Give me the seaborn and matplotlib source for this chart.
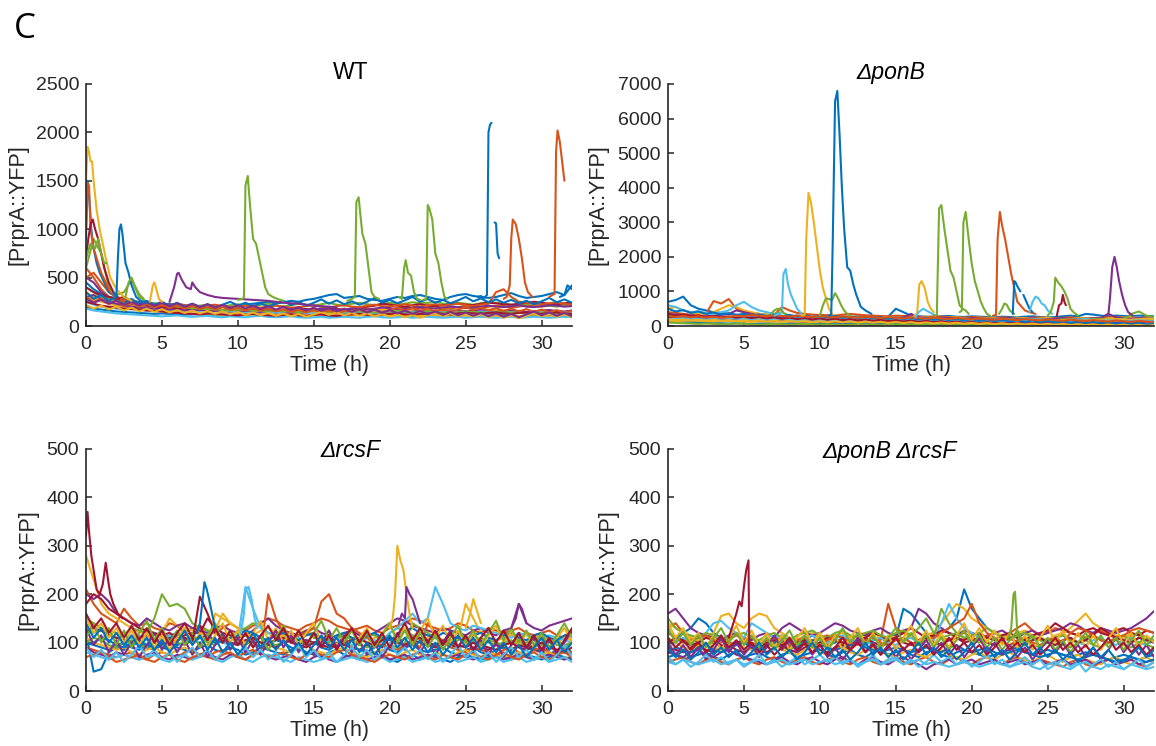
import numpy as np
import pandas as pd
import matplotlib.pyplot as plt
import seaborn as sns

# sampling grid of the background traces (h)
hours = np.arange(0, 32.5, 0.5)

# ---- WT ----
wt_traces = [
    [450, 380, 330, 300, 290, 280, 260, 250, 240, 230, 220, 230, 210, 200, 215, 205, 190, 200, 210, 195, 200, 220, 230, 240, 250, 230, 245, 260, 250, 270, 280, 300, 320, 330, 290, 300, 310, 280, 270, 260, 280, 300, 290, 310, 320, 300, 280, 270, 300, 320, 330, 310, 300, 290, 300, 320, 340, 310, 290, 300, 310, 330, 350, 320, 420],
    [600, 500, 380, 300, 260, 240, 220, 210, 200, 190, 180, 175, 185, 170, 165, 170, 160, 155, 165, 170, 160, 150, 160, 170, 155, 150, 160, 165, 150, 145, 155, 160, 170, 165, 150, 160, 175, 180, 170, 165, 170, 180, 190, 175, 185, 190, 200, 185, 180, 195, 200, 190, 185, 200, 210, 205, 190, 200, 215, 205, 200, 210, 220, 205, 215],
    [350, 300, 260, 240, 220, 230, 210, 200, 190, 185, 190, 180, 170, 175, 165, 160, 170, 175, 160, 150, 155, 165, 170, 160, 150, 145, 140, 150, 160, 155, 150, 145, 140, 150, 160, 155, 145, 150, 160, 170, 165, 155, 160, 175, 250, 230, 180, 170, 165, 160, 155, 150, 160, 170, 165, 160, 155, 150, 145, 150, 155, 160, 150, 145, 140],
    [500, 450, 350, 300, 270, 250, 230, 220, 210, 200, 190, 185, 180, 175, 170, 165, 160, 155, 150, 145, 150, 140, 135, 140, 145, 150, 140, 135, 130, 140, 145, 150, 140, 135, 130, 140, 150, 145, 135, 140, 150, 145, 140, 150, 160, 155, 145, 150, 160, 155, 150, 160, 165, 150, 145, 155, 160, 150, 145, 150, 160, 165, 155, 150, 160],
    [400, 350, 300, 280, 260, 240, 250, 230, 220, 235, 220, 210, 230, 215, 200, 210, 220, 205, 200, 215, 225, 210, 200, 220, 230, 210, 200, 215, 230, 220, 210, 225, 240, 220, 210, 230, 240, 225, 215, 230, 240, 225, 230, 245, 235, 240, 250, 230, 225, 240, 230, 220, 235, 250, 240, 230, 220, 210, 225, 235, 220, 210, 200, 215, 220],
    [250, 220, 200, 190, 180, 170, 175, 165, 160, 170, 165, 155, 150, 160, 155, 150, 145, 155, 160, 150, 145, 140, 150, 155, 145, 140, 150, 155, 145, 140, 135, 145, 150, 140, 135, 145, 150, 140, 135, 145, 150, 140, 135, 145, 150, 140, 135, 145, 150, 140, 135, 140, 150, 145, 135, 140, 145, 135, 130, 140, 145, 135, 130, 140, 145],
    [400, 350, 320, 300, 280, 300, 260, 240, 220, 210, 200, 190, 185, 180, 175, 170, 180, 175, 165, 170, 175, 165, 160, 170, 175, 165, 160, 170, 180, 175, 170, 180, 185, 175, 170, 180, 190, 200, 210, 230, 220, 210, 200, 215, 225, 210, 205, 215, 225, 230, 220, 215, 230, 240, 235, 225, 220, 230, 240, 250, 240, 230, 225, 235, 240],
    [200, 180, 170, 160, 150, 145, 140, 135, 130, 125, 130, 125, 120, 115, 120, 125, 120, 115, 110, 115, 120, 115, 110, 105, 115, 120, 115, 110, 105, 110, 115, 110, 105, 100, 110, 115, 120, 110, 105, 110, 115, 110, 105, 100, 110, 115, 110, 105, 110, 115, 110, 105, 100, 110, 115, 110, 105, 100, 105, 110, 115, 110, 105, 100, 110],
    [500, 550, 450, 350, 300, 270, 250, 240, 230, 220, 210, 220, 230, 215, 205, 200, 210, 220, 205, 195, 200, 210, 195, 190, 200, 210, 200, 190, 195, 205, 215, 200, 190, 205, 215, 200, 195, 210, 220, 205, 200, 215, 225, 210, 200, 215, 225, 210, 220, 230, 215, 205, 220, 230, 350, 380, 300, 250, 240, 230, 220, 235, 245, 230, 220],
    [300, 280, 250, 230, 210, 200, 190, 180, 170, 160, 150, 145, 140, 135, 130, 125, 130, 120, 115, 125, 120, 115, 110, 120, 125, 115, 110, 120, 115, 110, 105, 115, 120, 110, 105, 110, 115, 105, 100, 110, 115, 105, 100, 110, 105, 100, 110, 105, 100, 95, 105, 100, 95, 105, 100, 95, 100, 105, 95, 100, 105, 100, 95, 100, 105],
    [300, 320, 280, 250, 230, 210, 200, 190, 185, 180, 175, 170, 165, 160, 165, 170, 160, 155, 165, 170, 160, 155, 165, 175, 165, 160, 170, 175, 165, 160, 170, 180, 175, 165, 170, 180, 175, 170, 180, 190, 185, 175, 180, 190, 195, 185, 180, 190, 200, 195, 185, 190, 200, 210, 200, 195, 205, 215, 200, 195, 205, 215, 210, 200, 205],
    [600, 900, 750, 400, 320, 350, 480, 300, 250, 230, 220, 210, 200, 190, 185, 180, 175, 170, 165, 160, 170, 165, 160, 155, 150, 160, 155, 150, 145, 150, 155, 150, 145, 140, 150, 155, 150, 145, 140, 145, 150, 155, 145, 140, 150, 155, 145, 140, 135, 140, 150, 145, 140, 135, 140, 145, 140, 135, 130, 135, 140, 135, 130, 125, 130],
    [180, 160, 150, 140, 130, 125, 120, 115, 110, 105, 100, 105, 110, 100, 95, 100, 105, 95, 90, 100, 95, 90, 100, 105, 95, 90, 95, 100, 90, 85, 90, 95, 85, 90, 95, 90, 85, 95, 100, 90, 85, 90, 95, 85, 90, 95, 90, 85, 90, 95, 85, 90, 95, 90, 85, 90, 95, 85, 90, 95, 90, 85, 90, 95, 90],
    [250, 230, 210, 200, 190, 180, 175, 170, 160, 155, 150, 140, 135, 130, 125, 120, 130, 125, 120, 115, 110, 120, 125, 115, 110, 105, 115, 120, 110, 105, 115, 120, 110, 105, 115, 120, 125, 115, 110, 120, 125, 130, 120, 115, 125, 130, 135, 125, 120, 130, 135, 130, 125, 135, 140, 130, 125, 135, 140, 130, 125, 135, 140, 130, 125],
    [350, 280, 320, 260, 300, 240, 280, 230, 260, 220, 250, 210, 240, 200, 230, 195, 225, 190, 220, 250, 210, 240, 205, 235, 200, 230, 260, 215, 250, 210, 240, 275, 230, 265, 225, 255, 220, 250, 290, 240, 270, 235, 265, 300, 250, 280, 240, 270, 235, 265, 300, 255, 285, 245, 275, 240, 270, 235, 260, 225, 255, 290, 245, 275, 240],
    [300, 250, 280, 230, 260, 210, 240, 200, 230, 190, 220, 185, 215, 180, 210, 175, 200, 170, 195, 165, 190, 160, 185, 155, 180, 150, 175, 145, 170, 140, 165, 135, 160, 130, 155, 150, 175, 145, 170, 140, 165, 190, 160, 185, 155, 180, 150, 175, 145, 170, 195, 165, 190, 160, 185, 155, 180, 150, 175, 145, 170, 140, 165, 135, 160],
    [220, 180, 210, 170, 200, 160, 190, 150, 180, 145, 175, 140, 165, 135, 160, 130, 155, 125, 150, 120, 145, 115, 140, 110, 135, 105, 130, 100, 125, 95, 120, 145, 115, 140, 110, 135, 105, 130, 100, 125, 95, 120, 90, 115, 85, 110, 135, 105, 130, 100, 125, 95, 120, 90, 115, 85, 110, 80, 105, 130, 100, 125, 95, 120, 90],
    [280, 240, 270, 230, 260, 220, 250, 215, 245, 210, 240, 205, 235, 200, 230, 195, 225, 190, 220, 185, 215, 180, 210, 175, 205, 170, 200, 165, 195, 160, 190, 155, 185, 150, 180, 145, 175, 140, 170, 135, 165, 130, 160, 125, 155, 120, 150, 115, 145, 110, 140, 105, 135, 100, 130, 95, 125, 90, 120, 150, 110, 140, 105, 135, 100],
]
wt_spike_t = [
    [0, 0.1, 0.2, 0.3, 0.4, 0.5, 0.7, 0.9, 1.1, 1.3, 1.6, 2.0, 2.5, 3.0],
    [0, 0.1, 0.2, 0.35, 0.5, 0.7, 0.9, 1.2, 1.5, 2.0],
    [0, 0.1, 0.2, 0.3, 0.5, 0.8, 1.0, 1.3, 1.6, 2.0, 2.5],
    [0, 0.15, 0.3, 0.45, 0.6, 0.8, 1.0, 1.2, 1.5, 1.8, 2.2],
    [1.8, 2.0, 2.1, 2.2, 2.3, 2.4, 2.6, 2.8, 3.0, 3.3, 3.6, 4.0],
    [0, 0.3, 0.6, 0.8, 1.0, 1.2, 1.35],
    [2.6, 2.8, 3.0, 3.2, 3.5, 3.8],
    [4.2, 4.4, 4.5, 4.6, 4.8, 5.0],
    [5.5, 5.8, 6.0, 6.1, 6.3, 6.6, 6.9, 7.0, 7.2, 7.5, 8, 8.5, 9, 10, 11, 12, 13, 14, 15, 16, 16.5],
    [10.0, 10.3, 10.4, 10.5, 10.65, 10.8, 11.0, 11.2, 11.4, 11.6, 11.8, 12.0, 12.3, 12.6, 13.0],
    [17.2, 17.5, 17.7, 17.8, 17.95, 18.1, 18.2, 18.4, 18.6, 18.8, 19.0, 19.3],
    [20.6, 20.8, 20.95, 21.05, 21.2, 21.4, 21.6, 21.8, 22.0],
    [22.2, 22.4, 22.5, 22.6, 22.8, 23.0, 23.2, 23.4, 23.6, 23.8],
    [25.8, 26.0, 26.2, 26.4, 26.5, 26.6, 26.7],
    [26.9, 27.0, 27.1, 27.2],
    [27.5, 27.7, 27.9, 28.0, 28.1, 28.3, 28.5, 28.7, 28.9, 29.1, 29.4],
    [30.5, 30.7, 30.85, 30.95, 31.05, 31.2, 31.35, 31.5],
    [31.2, 31.5, 31.7, 32],
]
wt_spike_v = [
    [1500, 1850, 1800, 1700, 1700, 1500, 1200, 1000, 850, 700, 500, 380, 300, 260],
    [900, 1500, 1350, 1000, 800, 650, 550, 450, 350, 300],
    [1000, 1480, 1450, 1000, 800, 650, 550, 450, 350, 300, 250],
    [700, 900, 1050, 1100, 1000, 900, 750, 600, 450, 350, 280],
    [350, 300, 700, 1000, 1050, 950, 650, 550, 420, 300, 260, 240],
    [700, 850, 800, 900, 750, 650, 650],
    [300, 450, 500, 420, 330, 280],
    [250, 420, 450, 400, 280, 250],
    [250, 400, 540, 550, 480, 400, 380, 450, 400, 350, 320, 300, 290, 280, 270, 260, 240, 230, 210, 200, 190],
    [270, 280, 300, 1450, 1550, 1250, 900, 850, 700, 550, 400, 330, 300, 280, 260],
    [260, 280, 300, 1280, 1330, 1100, 950, 850, 600, 350, 300, 280],
    [300, 280, 600, 680, 550, 520, 350, 280, 270],
    [270, 280, 1250, 1220, 1100, 750, 650, 450, 300, 280],
    [300, 310, 290, 320, 2000, 2080, 2100],
    [1070, 1060, 750, 700],
    [280, 300, 420, 900, 1100, 1050, 900, 700, 450, 350, 300],
    [300, 320, 330, 1800, 2020, 1900, 1700, 1500],
    [300, 320, 420, 380],
]

# ---- dponB ----
ponb_traces = [
    [700, 750, 850, 600, 500, 450, 400, 380, 350, 330, 320, 300, 310, 290, 300, 280, 290, 300, 280, 270, 290, 300, 280, 270, 260, 280, 270, 260, 250, 270, 500, 400, 300, 280, 270, 260, 280, 290, 270, 260, 280, 270, 260, 250, 270, 260, 250, 270, 280, 260, 250, 260, 280, 300, 280, 350, 330, 300, 280, 300, 290, 280, 300, 290, 280],
    [400, 380, 350, 330, 300, 350, 720, 650, 780, 500, 400, 380, 350, 330, 320, 550, 450, 380, 350, 330, 320, 310, 300, 330, 350, 330, 310, 300, 290, 280, 300, 290, 280, 270, 260, 280, 270, 260, 250, 240, 260, 250, 240, 230, 250, 240, 230, 220, 240, 250, 230, 220, 240, 250, 230, 220, 230, 240, 250, 260, 250, 240, 230, 250, 240],
    [500, 550, 450, 400, 350, 330, 400, 500, 600, 550, 450, 400, 350, 330, 300, 280, 300, 270, 260, 250, 240, 260, 250, 240, 230, 250, 240, 230, 250, 260, 240, 230, 250, 260, 240, 230, 220, 240, 250, 230, 220, 240, 230, 220, 210, 230, 240, 220, 210, 230, 240, 220, 210, 200, 220, 230, 210, 200, 220, 230, 240, 250, 230, 220, 240],
    [350, 330, 320, 300, 290, 280, 300, 320, 350, 450, 400, 350, 300, 280, 270, 260, 250, 240, 250, 260, 240, 230, 250, 240, 230, 220, 240, 250, 230, 220, 230, 240, 350, 250, 230, 220, 240, 230, 220, 210, 230, 220, 210, 200, 220, 230, 210, 200, 220, 210, 200, 220, 230, 210, 200, 210, 220, 230, 350, 250, 220, 210, 230, 220, 210],
    [250, 240, 230, 220, 210, 200, 190, 180, 200, 220, 210, 200, 190, 220, 350, 400, 300, 250, 220, 200, 210, 200, 190, 210, 220, 200, 190, 180, 200, 210, 190, 180, 200, 210, 190, 180, 170, 190, 200, 180, 190, 200, 180, 170, 190, 200, 180, 170, 190, 200, 180, 170, 190, 200, 180, 190, 200, 210, 190, 180, 200, 350, 420, 300, 250],
    [600, 550, 450, 400, 420, 380, 350, 400, 450, 600, 700, 550, 450, 400, 350, 300, 280, 260, 250, 240, 230, 220, 210, 230, 240, 220, 210, 200, 220, 230, 210, 200, 190, 210, 220, 200, 190, 180, 200, 210, 190, 180, 170, 190, 200, 180, 170, 190, 200, 190, 180, 170, 160, 180, 190, 200, 180, 170, 160, 180, 190, 170, 160, 180, 190],
    [250, 270, 300, 280, 260, 240, 230, 220, 210, 200, 190, 180, 170, 160, 150, 140, 150, 140, 130, 140, 150, 140, 130, 120, 130, 140, 130, 120, 130, 140, 130, 120, 110, 120, 130, 120, 110, 100, 110, 120, 110, 100, 110, 120, 110, 100, 110, 120, 110, 100, 110, 120, 110, 100, 110, 120, 110, 100, 110, 120, 110, 100, 110, 120, 110],
    [150, 140, 130, 120, 110, 100, 90, 80, 70, 80, 70, 60, 70, 80, 70, 60, 70, 80, 70, 60, 70, 60, 50, 60, 70, 60, 50, 60, 70, 60, 50, 60, 70, 60, 50, 60, 50, 40, 50, 60, 50, 40, 50, 40, 50, 40, 50, 40, 50, 40, 50, 40, 30, 40, 50, 40, 30, 40, 50, 40, 30, 40, 50, 40, 30],
    [200, 190, 180, 170, 160, 180, 170, 160, 150, 160, 170, 160, 150, 140, 150, 160, 150, 140, 150, 160, 150, 140, 150, 160, 170, 160, 150, 140, 150, 160, 150, 140, 130, 140, 150, 160, 170, 160, 150, 160, 170, 180, 170, 160, 170, 180, 170, 160, 170, 180, 170, 160, 170, 180, 170, 160, 170, 180, 170, 160, 170, 180, 170, 160, 170],
    [150, 140, 150, 160, 150, 140, 130, 140, 150, 140, 130, 120, 130, 140, 130, 120, 130, 140, 130, 120, 130, 140, 130, 120, 130, 140, 130, 120, 130, 140, 130, 120, 130, 140, 130, 120, 130, 140, 130, 120, 130, 140, 150, 160, 150, 140, 150, 160, 170, 160, 150, 160, 170, 180, 170, 160, 170, 180, 190, 200, 190, 180, 200, 210, 200],
    [300, 280, 260, 250, 240, 230, 220, 210, 200, 190, 180, 170, 160, 150, 160, 150, 140, 130, 140, 150, 140, 130, 120, 130, 140, 130, 120, 110, 120, 130, 120, 110, 100, 110, 120, 110, 100, 90, 100, 110, 100, 90, 100, 110, 100, 90, 100, 110, 100, 90, 100, 110, 100, 90, 100, 110, 100, 90, 100, 110, 100, 90, 100, 110, 100],
    [100, 90, 80, 70, 60, 70, 60, 50, 60, 70, 60, 50, 40, 50, 60, 50, 40, 50, 60, 50, 40, 50, 40, 30, 40, 50, 40, 30, 40, 50, 40, 30, 40, 50, 40, 30, 40, 30, 40, 30, 40, 30, 40, 30, 40, 30, 40, 30, 40, 30, 40, 30, 40, 30, 40, 30, 40, 30, 40, 30, 40, 30, 40, 30, 40],
    [200, 210, 220, 210, 200, 190, 200, 210, 220, 210, 200, 190, 180, 190, 200, 190, 180, 170, 180, 190, 180, 170, 160, 170, 180, 170, 160, 150, 160, 170, 160, 150, 140, 150, 160, 150, 140, 150, 160, 150, 140, 150, 160, 150, 140, 150, 160, 150, 140, 150, 160, 150, 140, 150, 160, 150, 140, 150, 160, 150, 140, 150, 160, 150, 140],
    [350, 300, 330, 280, 310, 260, 290, 250, 280, 240, 270, 230, 260, 220, 250, 210, 240, 200, 230, 190, 220, 180, 210, 170, 200, 160, 190, 150, 180, 140, 170, 130, 160, 120, 150, 110, 140, 100, 130, 90, 120, 80, 110, 70, 100, 60, 90, 50, 80, 40, 70, 30, 60, 20, 50, 30, 60, 40, 70, 30, 50, 20, 40, 30, 20],
    [500, 420, 460, 380, 420, 350, 390, 330, 370, 310, 350, 300, 340, 290, 330, 280, 320, 270, 310, 260, 300, 250, 290, 240, 280, 230, 270, 220, 260, 210, 250, 200, 240, 190, 230, 180, 220, 170, 210, 160, 200, 150, 190, 140, 180, 130, 170, 120, 160, 110, 150, 100, 140, 90, 130, 80, 120, 70, 110, 60, 100, 50, 90, 40, 80],
    [300, 260, 290, 250, 280, 240, 270, 230, 260, 300, 280, 320, 300, 280, 310, 290, 270, 300, 280, 260, 290, 270, 250, 280, 260, 240, 270, 250, 230, 260, 240, 220, 250, 230, 210, 240, 220, 200, 230, 210, 190, 220, 200, 180, 210, 190, 170, 200, 180, 160, 190, 170, 150, 180, 160, 140, 170, 150, 130, 160, 140, 120, 150, 130, 110],
    [200, 170, 190, 160, 180, 150, 175, 145, 170, 140, 165, 135, 160, 130, 155, 125, 150, 120, 145, 115, 140, 110, 135, 105, 130, 100, 125, 95, 120, 90, 115, 85, 110, 80, 105, 75, 100, 70, 95, 65, 90, 60, 85, 55, 80, 50, 75, 45, 70, 40, 65, 35, 60, 30, 55, 25, 50, 20, 45, 15, 40, 10, 35, 5, 30],
]
ponb_spike_t = [
    [7.0, 7.3, 7.5, 7.6, 7.75, 7.9, 8.1, 8.3, 8.5, 8.8],
    [8.8, 9.0, 9.1, 9.25, 9.4, 9.6, 9.8, 10.0, 10.2, 10.4, 10.6, 10.8],
    [10.0, 10.2, 10.4, 10.6, 10.8, 11.0, 11.2, 11.4, 11.6, 11.8, 12.0],
    [10.6, 10.75, 10.85, 11.0, 11.15, 11.3, 11.45, 11.6, 11.8, 12.0, 12.2, 12.4, 12.7, 13.0, 13.4],
    [16.2, 16.4, 16.55, 16.7, 16.9, 17.1, 17.3, 17.5],
    [16.3, 16.5, 16.8, 17.0, 17.3, 17.6],
    [17.5, 17.7, 17.85, 18.0, 18.2, 18.4, 18.6, 18.8, 19.0, 19.2, 19.4, 19.6, 19.8],
    [19.2, 19.35, 19.45, 19.6, 19.8, 20.0, 20.2, 20.4, 20.6, 20.8, 21.0, 21.2],
    [21.4, 21.6, 21.7, 21.85, 22.0, 22.2, 22.4, 22.6, 22.8, 23.0, 23.2, 23.5, 23.8, 24.2],
    [21.8, 22.0, 22.15, 22.3, 22.5, 22.8],
    [22.7, 22.8, 22.9, 23.0, 23.2],
    [23.4, 23.6, 23.8, 24.0],
    [23.8, 24.0, 24.2, 24.4, 24.6, 24.8, 25.0, 25.3],
    [25.0, 25.2, 25.4, 25.5, 25.7, 25.9, 26.1, 26.3, 26.5, 26.7, 27.0],
    [25.6, 25.75, 25.9, 26.0, 26.1, 26.2],
    [28.8, 29.0, 29.1, 29.25, 29.4, 29.55, 29.7, 29.9, 30.1, 30.3, 30.6],
    [6.8, 7.0, 7.2, 7.4, 7.6],
]
ponb_spike_v = [
    [300, 350, 400, 1500, 1650, 1200, 900, 700, 500, 350],
    [300, 320, 2500, 3850, 3600, 3000, 2300, 1600, 1100, 800, 500, 350],
    [300, 600, 800, 780, 750, 950, 800, 600, 450, 350, 300],
    [300, 350, 2500, 6500, 6800, 5500, 4000, 2800, 1700, 1600, 1200, 900, 550, 450, 350],
    [300, 350, 1200, 1300, 1100, 700, 500, 400],
    [250, 400, 500, 450, 380, 300],
    [300, 320, 3400, 3500, 2800, 2200, 1600, 1400, 1000, 600, 500, 450, 350],
    [400, 450, 3000, 3300, 2500, 1800, 1300, 1000, 700, 500, 350, 300],
    [300, 320, 2500, 3300, 2900, 2500, 2000, 1500, 1100, 700, 600, 450, 400, 350],
    [350, 500, 650, 620, 450, 350],
    [350, 1300, 1250, 1150, 1000],
    [900, 700, 500, 400],
    [400, 700, 850, 800, 650, 600, 450, 350],
    [300, 400, 700, 1400, 1250, 1150, 1000, 800, 500, 400, 300],
    [300, 600, 650, 900, 700, 600],
    [300, 350, 800, 1700, 2000, 1700, 1300, 900, 600, 400, 300],
    [350, 450, 500, 480, 400],
]

# ---- drcsF ----
rcsf_traces = [
    [120, 40, 45, 80, 90, 85, 95, 100, 90, 85, 95, 105, 90, 85, 80, 90, 95, 85, 80, 90, 85, 75, 80, 90, 85, 80, 75, 85, 90, 80, 75, 70, 80, 85, 75, 70, 65, 75, 80, 70, 65, 60, 70, 75, 65, 70, 75, 65, 60, 70, 75, 70, 65, 70, 75, 70, 65, 70, 75, 70, 65, 70, 75, 70, 65],
    [210, 180, 160, 150, 140, 170, 150, 135, 140, 130, 125, 140, 135, 120, 130, 135, 125, 120, 130, 140, 130, 125, 135, 140, 150, 145, 135, 130, 125, 135, 140, 150, 145, 135, 130, 125, 130, 135, 125, 120, 130, 135, 140, 150, 145, 135, 130, 125, 130, 140, 135, 125, 120, 130, 125, 120, 125, 130, 120, 115, 120, 125, 115, 110, 120],
    [280, 230, 180, 160, 150, 140, 130, 120, 125, 115, 120, 150, 135, 130, 125, 120, 115, 125, 160, 140, 130, 120, 115, 125, 130, 120, 115, 110, 120, 125, 115, 110, 105, 115, 120, 110, 105, 100, 110, 115, 105, 100, 110, 115, 105, 110, 115, 105, 100, 110, 180, 150, 120, 110, 105, 110, 115, 105, 100, 110, 115, 105, 100, 110, 105],
    [200, 190, 200, 185, 160, 150, 140, 135, 150, 140, 130, 125, 135, 140, 130, 125, 120, 130, 135, 125, 120, 115, 125, 140, 150, 135, 125, 120, 115, 125, 130, 120, 115, 110, 120, 125, 115, 110, 120, 130, 140, 150, 145, 135, 130, 125, 120, 130, 125, 120, 115, 125, 130, 120, 115, 125, 130, 180, 140, 130, 125, 135, 140, 145, 150],
    [150, 140, 130, 125, 120, 115, 130, 125, 120, 150, 200, 175, 180, 170, 140, 130, 125, 120, 115, 110, 125, 130, 140, 135, 120, 115, 110, 105, 115, 120, 110, 105, 100, 110, 115, 105, 110, 120, 115, 105, 120, 130, 125, 115, 110, 105, 110, 100, 105, 110, 100, 105, 110, 100, 95, 100, 105, 95, 100, 105, 95, 100, 105, 95, 100],
    [130, 120, 125, 115, 110, 105, 110, 115, 105, 100, 110, 115, 120, 110, 105, 100, 110, 105, 100, 95, 105, 215, 170, 130, 120, 110, 105, 100, 110, 105, 100, 95, 105, 110, 100, 95, 100, 110, 105, 100, 120, 130, 145, 160, 140, 150, 215, 180, 140, 130, 125, 135, 130, 125, 120, 115, 110, 120, 115, 110, 105, 115, 110, 105, 100],
    [180, 200, 190, 170, 160, 150, 140, 130, 125, 120, 115, 120, 110, 115, 120, 120, 150, 130, 120, 115, 110, 115, 105, 110, 100, 105, 110, 100, 95, 105, 100, 95, 90, 100, 95, 90, 85, 95, 100, 90, 110, 100, 95, 105, 100, 95, 90, 100, 95, 90, 95, 100, 90, 85, 95, 90, 85, 95, 90, 85, 80, 90, 85, 80, 75],
    [100, 95, 90, 85, 95, 100, 90, 85, 95, 100, 90, 85, 95, 100, 110, 110, 105, 100, 110, 100, 95, 105, 100, 90, 95, 105, 100, 90, 85, 95, 100, 90, 85, 95, 100, 90, 85, 80, 90, 95, 85, 80, 90, 95, 85, 80, 85, 90, 80, 75, 85, 90, 80, 75, 85, 90, 80, 75, 85, 90, 80, 75, 85, 90, 80],
    [90, 85, 80, 75, 70, 75, 80, 70, 65, 75, 80, 75, 70, 80, 85, 75, 70, 80, 85, 75, 70, 80, 85, 75, 200, 150, 120, 110, 115, 120, 130, 185, 200, 160, 150, 130, 120, 110, 100, 95, 90, 85, 95, 100, 90, 140, 120, 100, 90, 85, 80, 90, 85, 80, 75, 85, 90, 80, 75, 85, 90, 80, 75, 85, 80],
    [110, 100, 95, 90, 85, 90, 80, 75, 85, 90, 80, 75, 85, 90, 80, 75, 85, 160, 150, 140, 130, 120, 110, 100, 95, 90, 85, 80, 90, 95, 85, 80, 75, 85, 90, 80, 75, 70, 80, 85, 75, 70, 80, 85, 75, 70, 80, 75, 70, 80, 85, 75, 70, 80, 75, 70, 75, 80, 70, 65, 75, 80, 70, 65, 75],
    [90, 80, 75, 70, 80, 75, 70, 65, 75, 80, 70, 65, 75, 70, 65, 75, 80, 70, 65, 75, 70, 65, 75, 80, 70, 65, 70, 75, 65, 60, 70, 75, 65, 60, 70, 75, 70, 65, 70, 75, 65, 70, 75, 65, 70, 75, 70, 65, 70, 75, 70, 65, 70, 75, 70, 65, 70, 75, 70, 65, 70, 75, 70, 65, 70],
    [100, 110, 105, 95, 90, 100, 105, 95, 90, 100, 105, 110, 100, 95, 105, 110, 100, 95, 105, 110, 100, 95, 105, 110, 100, 95, 100, 110, 105, 95, 100, 105, 95, 90, 100, 105, 95, 90, 100, 105, 95, 90, 100, 140, 130, 120, 110, 100, 95, 105, 110, 100, 95, 105, 100, 95, 100, 105, 95, 90, 100, 105, 95, 90, 100],
    [80, 75, 70, 65, 70, 75, 70, 65, 70, 75, 65, 60, 70, 75, 65, 70, 75, 65, 60, 70, 75, 65, 60, 70, 75, 70, 65, 60, 70, 65, 60, 65, 70, 60, 65, 70, 65, 60, 65, 70, 60, 65, 70, 60, 65, 70, 60, 65, 70, 60, 65, 70, 60, 65, 70, 60, 65, 70, 60, 65, 70, 60, 65, 70, 60],
    [120, 130, 125, 115, 110, 105, 100, 110, 115, 105, 100, 95, 105, 110, 100, 195, 160, 120, 110, 100, 95, 105, 110, 100, 95, 90, 100, 105, 95, 90, 100, 105, 95, 90, 100, 105, 110, 100, 95, 105, 110, 100, 95, 105, 110, 100, 95, 105, 100, 95, 90, 100, 95, 90, 85, 95, 100, 90, 85, 95, 100, 90, 85, 80, 90],
    [95, 100, 110, 105, 95, 90, 100, 105, 95, 90, 100, 110, 115, 105, 100, 110, 115, 105, 100, 110, 115, 125, 120, 110, 105, 115, 120, 110, 105, 115, 120, 110, 105, 115, 120, 110, 105, 115, 120, 110, 105, 115, 125, 130, 120, 115, 110, 120, 115, 110, 105, 115, 120, 110, 105, 115, 120, 110, 105, 115, 120, 110, 105, 115, 120],
    [70, 75, 80, 70, 60, 65, 70, 75, 65, 60, 70, 75, 65, 60, 70, 75, 70, 65, 75, 80, 70, 65, 75, 80, 70, 75, 80, 70, 65, 75, 80, 75, 70, 80, 85, 75, 70, 65, 60, 70, 75, 70, 65, 75, 80, 70, 65, 75, 70, 65, 75, 80, 70, 65, 75, 80, 70, 65, 75, 80, 70, 65, 75, 80, 70],
    [150, 120, 140, 110, 130, 100, 125, 95, 120, 90, 115, 85, 110, 130, 95, 120, 90, 115, 140, 100, 125, 95, 120, 145, 105, 130, 100, 125, 95, 120, 140, 100, 125, 95, 115, 85, 110, 130, 95, 120, 140, 105, 130, 100, 125, 150, 110, 135, 100, 125, 95, 120, 90, 115, 135, 100, 125, 95, 120, 90, 115, 85, 110, 130, 100],
    [130, 95, 115, 80, 105, 75, 100, 70, 95, 120, 85, 110, 80, 105, 75, 100, 70, 95, 120, 85, 110, 80, 105, 75, 100, 125, 90, 115, 80, 105, 75, 100, 125, 90, 115, 80, 105, 75, 100, 70, 95, 120, 85, 110, 80, 105, 75, 100, 125, 90, 115, 80, 105, 75, 100, 70, 95, 120, 85, 110, 80, 105, 75, 100, 125],
    [110, 140, 100, 130, 95, 125, 90, 120, 145, 105, 130, 100, 125, 95, 120, 90, 115, 140, 100, 125, 95, 120, 90, 115, 85, 110, 135, 100, 125, 95, 120, 145, 105, 130, 100, 125, 95, 120, 90, 115, 140, 100, 125, 95, 120, 90, 115, 85, 110, 135, 100, 125, 95, 120, 145, 105, 130, 100, 125, 95, 120, 90, 115, 140, 110],
    [90, 70, 85, 65, 80, 60, 75, 95, 70, 85, 65, 80, 60, 75, 90, 70, 85, 65, 80, 100, 75, 90, 70, 85, 65, 80, 60, 75, 95, 70, 85, 65, 80, 60, 75, 90, 70, 85, 65, 80, 100, 75, 90, 70, 85, 65, 80, 60, 75, 95, 70, 85, 65, 80, 60, 75, 90, 70, 85, 65, 80, 60, 75, 95, 70],
    [160, 130, 150, 120, 140, 110, 135, 105, 130, 100, 125, 95, 120, 140, 110, 135, 105, 130, 100, 125, 95, 120, 90, 115, 135, 105, 130, 100, 125, 95, 120, 90, 115, 85, 110, 130, 100, 125, 95, 120, 90, 115, 140, 105, 130, 100, 125, 95, 120, 90, 115, 85, 110, 130, 100, 125, 95, 120, 90, 115, 85, 110, 80, 105, 130],
    [140, 110, 130, 100, 120, 95, 115, 90, 110, 85, 105, 80, 100, 125, 95, 115, 85, 110, 80, 100, 75, 95, 120, 90, 110, 85, 105, 80, 100, 75, 95, 115, 90, 110, 85, 105, 80, 100, 75, 95, 115, 90, 110, 85, 105, 80, 100, 75, 95, 115, 90, 110, 85, 105, 80, 100, 75, 95, 70, 90, 110, 85, 105, 80, 100],
]
rcsf_spike_t = [
    [0, 0.1, 0.2, 0.35, 0.5, 0.7, 0.9, 1.1, 1.3, 1.45, 1.6, 1.8, 2.1, 2.4],
    [7.3, 7.5, 7.65, 7.8, 7.95, 8.1, 8.3, 8.5],
    [10.2, 10.4, 10.5, 10.7, 10.9, 11.1, 11.3],
    [20.0, 20.2, 20.35, 20.5, 20.7, 20.9, 21.1, 21.3, 21.5],
    [20.6, 20.8, 21.0, 21.1, 21.3, 21.5, 21.8, 22.0],
    [28.0, 28.3, 28.5, 28.7, 29.0],
    [25.0, 25.3, 25.5, 25.7, 26.0],
]
rcsf_spike_v = [
    [320, 370, 330, 280, 250, 210, 200, 220, 265, 230, 200, 180, 160, 150],
    [120, 140, 180, 225, 210, 190, 160, 130],
    [120, 160, 210, 215, 190, 150, 130],
    [130, 150, 200, 300, 270, 250, 200, 160, 130],
    [140, 160, 150, 215, 200, 190, 160, 140],
    [130, 150, 180, 170, 140],
    [130, 160, 190, 170, 140],
]

# ---- dponB drcsF ----
both_traces = [
    [100, 110, 120, 130, 150, 140, 120, 110, 100, 95, 105, 110, 100, 95, 105, 110, 100, 95, 105, 115, 105, 95, 100, 110, 105, 100, 95, 105, 110, 100, 110, 170, 160, 140, 120, 110, 120, 130, 150, 210, 170, 150, 130, 120, 110, 105, 115, 120, 110, 105, 100, 110, 115, 105, 100, 110, 115, 105, 100, 110, 105, 100, 110, 105, 100],
    [130, 140, 120, 110, 100, 95, 105, 110, 100, 95, 105, 110, 100, 95, 105, 110, 105, 100, 95, 105, 110, 115, 105, 100, 110, 115, 120, 110, 105, 180, 130, 120, 110, 105, 115, 120, 110, 105, 115, 120, 110, 105, 115, 120, 110, 120, 130, 140, 125, 115, 120, 130, 125, 120, 115, 110, 120, 125, 115, 110, 105, 115, 120, 110, 105],
    [140, 130, 120, 110, 105, 110, 120, 155, 160, 140, 130, 150, 160, 155, 130, 120, 110, 105, 115, 120, 110, 105, 115, 120, 110, 105, 115, 120, 110, 105, 115, 120, 110, 105, 115, 120, 140, 160, 180, 170, 150, 140, 130, 120, 115, 110, 120, 125, 115, 110, 105, 115, 120, 130, 145, 160, 140, 130, 120, 115, 110, 120, 115, 110, 105],
    [160, 170, 150, 130, 120, 115, 110, 105, 115, 120, 110, 105, 115, 120, 110, 130, 140, 130, 120, 115, 120, 130, 140, 135, 125, 120, 115, 125, 130, 120, 115, 125, 130, 170, 160, 140, 130, 120, 115, 125, 120, 115, 110, 120, 125, 115, 110, 120, 125, 115, 120, 125, 130, 140, 135, 125, 120, 130, 125, 120, 125, 130, 140, 150, 165],
    [120, 110, 100, 95, 90, 95, 100, 90, 85, 95, 100, 90, 85, 95, 100, 90, 85, 95, 100, 90, 95, 100, 105, 95, 90, 100, 105, 95, 90, 100, 105, 110, 100, 95, 105, 110, 170, 140, 120, 110, 105, 100, 110, 105, 100, 95, 100, 105, 95, 90, 100, 105, 95, 90, 100, 105, 95, 90, 100, 105, 95, 90, 100, 95, 90],
    [90, 100, 110, 100, 95, 120, 140, 145, 130, 120, 110, 140, 130, 120, 110, 115, 105, 100, 110, 115, 105, 100, 110, 115, 105, 100, 95, 105, 110, 100, 95, 105, 110, 100, 95, 105, 140, 180, 150, 130, 120, 110, 100, 95, 105, 110, 100, 95, 105, 110, 100, 95, 105, 110, 100, 95, 105, 110, 100, 95, 105, 110, 100, 95, 105],
    [90, 85, 80, 90, 95, 85, 80, 90, 95, 85, 80, 90, 85, 80, 90, 95, 85, 80, 90, 95, 85, 80, 90, 95, 85, 100, 110, 120, 115, 105, 110, 120, 130, 120, 110, 115, 125, 120, 110, 105, 115, 120, 110, 105, 115, 120, 110, 105, 115, 120, 125, 140, 130, 120, 115, 125, 130, 120, 115, 125, 130, 120, 115, 125, 120],
    [70, 75, 65, 70, 75, 80, 70, 65, 75, 80, 70, 75, 80, 70, 65, 75, 80, 70, 75, 80, 85, 75, 70, 80, 85, 75, 70, 80, 85, 75, 80, 85, 75, 70, 80, 85, 75, 70, 80, 85, 80, 75, 70, 75, 80, 85, 90, 80, 75, 80, 85, 80, 75, 70, 75, 80, 75, 70, 65, 70, 75, 70, 65, 70, 75],
    [60, 65, 70, 60, 55, 65, 70, 60, 55, 65, 70, 60, 55, 65, 70, 60, 55, 65, 70, 60, 55, 65, 70, 60, 55, 65, 70, 60, 55, 65, 70, 60, 55, 65, 70, 60, 55, 65, 70, 60, 55, 65, 70, 60, 55, 65, 70, 60, 55, 65, 60, 55, 50, 60, 65, 55, 50, 60, 65, 55, 60, 65, 55, 50, 60],
    [110, 100, 90, 85, 95, 100, 90, 85, 95, 100, 90, 85, 80, 90, 95, 85, 80, 75, 85, 90, 80, 75, 85, 90, 80, 75, 85, 90, 80, 75, 70, 80, 85, 75, 70, 80, 85, 75, 70, 65, 75, 80, 70, 65, 75, 80, 70, 65, 60, 70, 75, 65, 60, 70, 75, 65, 60, 55, 65, 70, 60, 55, 65, 70, 60],
    [80, 75, 70, 80, 85, 75, 70, 80, 85, 75, 70, 65, 60, 55, 65, 70, 60, 55, 65, 70, 60, 55, 65, 70, 60, 55, 65, 70, 60, 55, 65, 70, 60, 55, 45, 55, 60, 65, 55, 60, 65, 55, 60, 65, 55, 60, 65, 55, 60, 65, 55, 60, 65, 55, 60, 65, 55, 60, 65, 55, 60, 65, 55, 60, 65],
    [150, 130, 120, 115, 110, 120, 115, 110, 105, 115, 120, 110, 105, 115, 120, 110, 105, 115, 120, 125, 115, 110, 120, 125, 115, 110, 120, 125, 115, 110, 120, 125, 115, 130, 150, 120, 110, 115, 120, 110, 115, 120, 130, 120, 110, 105, 115, 120, 110, 105, 100, 110, 115, 105, 100, 110, 115, 105, 100, 110, 115, 105, 100, 110, 105],
    [60, 55, 65, 60, 55, 60, 65, 55, 60, 65, 55, 60, 65, 55, 60, 65, 55, 60, 65, 55, 60, 65, 55, 60, 65, 55, 60, 65, 55, 60, 65, 55, 60, 65, 55, 60, 55, 50, 55, 60, 55, 50, 55, 60, 55, 50, 55, 60, 50, 45, 55, 60, 50, 45, 55, 60, 50, 45, 55, 50, 45, 55, 50, 45, 50],
    [100, 110, 105, 95, 100, 110, 105, 95, 90, 100, 105, 95, 90, 100, 105, 95, 90, 100, 105, 95, 100, 110, 105, 100, 95, 105, 110, 100, 95, 105, 110, 100, 95, 105, 110, 100, 95, 105, 110, 100, 105, 110, 100, 95, 105, 110, 100, 95, 105, 110, 100, 95, 105, 110, 100, 105, 115, 130, 120, 110, 105, 100, 110, 105, 100],
    [80, 90, 85, 80, 90, 95, 85, 80, 90, 95, 100, 90, 85, 95, 100, 105, 95, 90, 100, 105, 95, 90, 85, 90, 95, 100, 90, 85, 80, 85, 90, 85, 80, 85, 90, 85, 80, 90, 95, 85, 80, 85, 90, 80, 75, 80, 85, 80, 75, 70, 75, 80, 75, 70, 65, 70, 75, 70, 65, 60, 65, 70, 65, 60, 65],
    [120, 110, 100, 105, 110, 115, 105, 100, 110, 115, 105, 100, 95, 105, 110, 100, 95, 105, 110, 100, 95, 105, 115, 110, 100, 95, 105, 110, 100, 95, 105, 110, 100, 95, 105, 110, 120, 130, 140, 150, 180, 140, 120, 110, 100, 95, 105, 110, 100, 95, 105, 110, 100, 120, 130, 125, 115, 105, 100, 110, 115, 125, 130, 125, 120],
    [140, 110, 130, 100, 120, 90, 115, 85, 110, 135, 100, 125, 95, 120, 90, 115, 85, 110, 130, 95, 120, 90, 115, 85, 110, 130, 95, 120, 90, 115, 85, 110, 135, 100, 125, 95, 120, 90, 115, 140, 105, 130, 100, 125, 95, 120, 90, 115, 85, 110, 135, 100, 125, 95, 120, 90, 115, 85, 110, 130, 95, 120, 90, 115, 100],
    [100, 75, 95, 70, 90, 65, 85, 110, 80, 100, 75, 95, 70, 90, 115, 85, 105, 80, 100, 75, 95, 70, 90, 65, 85, 110, 80, 100, 75, 95, 70, 90, 65, 85, 105, 80, 100, 75, 95, 70, 90, 110, 80, 100, 75, 95, 70, 90, 65, 85, 105, 80, 100, 75, 95, 70, 90, 65, 85, 110, 80, 100, 75, 95, 70],
    [130, 100, 120, 95, 115, 90, 110, 130, 100, 120, 95, 115, 90, 110, 85, 105, 125, 95, 115, 90, 110, 85, 105, 130, 100, 120, 95, 115, 90, 110, 130, 100, 120, 95, 115, 90, 110, 85, 105, 125, 95, 115, 90, 110, 85, 105, 125, 95, 115, 90, 110, 85, 105, 80, 100, 120, 95, 115, 90, 110, 85, 105, 125, 95, 115],
    [70, 55, 65, 50, 60, 75, 60, 70, 55, 65, 50, 60, 75, 55, 65, 50, 60, 70, 55, 65, 75, 60, 70, 55, 65, 50, 60, 75, 55, 65, 70, 55, 65, 50, 60, 75, 60, 70, 55, 65, 50, 60, 75, 55, 65, 50, 60, 70, 55, 65, 45, 55, 65, 50, 60, 40, 55, 65, 50, 60, 45, 55, 65, 50, 60],
    [110, 90, 105, 85, 100, 80, 95, 115, 90, 105, 85, 100, 80, 95, 75, 90, 110, 85, 100, 80, 95, 75, 90, 110, 85, 100, 80, 95, 75, 90, 110, 85, 100, 80, 95, 75, 90, 110, 85, 100, 80, 95, 75, 90, 110, 85, 100, 80, 95, 75, 90, 110, 85, 100, 80, 95, 75, 90, 110, 85, 100, 80, 95, 75, 90],
    [90, 70, 85, 65, 80, 100, 75, 90, 70, 85, 65, 80, 100, 75, 90, 70, 85, 65, 80, 100, 75, 90, 70, 85, 65, 80, 100, 75, 90, 70, 85, 65, 80, 100, 75, 90, 70, 85, 65, 80, 100, 75, 90, 70, 85, 65, 80, 100, 75, 90, 70, 85, 65, 80, 60, 75, 90, 70, 85, 65, 60, 75, 90, 70, 85],
]
both_spike_t = [
    [4.0, 4.3, 4.5, 4.7, 4.85, 5.0, 5.15, 5.3, 5.35],
    [22.4, 22.6, 22.75, 22.85, 23.0, 23.2],
]
both_spike_v = [
    [110, 140, 160, 185, 175, 215, 250, 270, 100],
    [110, 130, 200, 205, 120, 100],
]

panel_titles = ['WT', '\u0394ponB', '\u0394rcsF', '\u0394ponB \u0394rcsF']
y_max = [2500, 7000, 500, 500]
y_step = [500, 1000, 100, 100]
x_ticks = [0, 5, 10, 15, 20, 25, 30]

# ---- styling ----
matlab = ['#0072BD', '#D95319', '#EDB120', '#7E2F8E', '#77AC30', '#4DBEEE', '#A2142F']
wt_spike_col = [2, 0, 1, 6, 0, 4, 4, 2, 3, 4, 4, 4, 4, 0, 0, 1, 1, 0]
ponb_spike_col = [5, 2, 4, 0, 2, 5, 4, 4, 1, 4, 0, 0, 5, 4, 6, 3, 4]
rcsf_spike_col = [6, 0, 5, 2, 3, 3, 2]
both_spike_col = [6, 4]

sns.set_theme(style='white')
plt.rcParams['font.family'] = ['Liberation Sans', 'DejaVu Sans']
dark = '#262626'

fig = plt.figure(figsize=(11.56, 7.46), dpi=100)
W, H = 1156, 746
boxes = [(86, 84), (668, 84), (86, 449), (668, 449)]   # left, top in px
aw, ah = 486, 242

panels = [
    (wt_traces, wt_spike_t, wt_spike_v, wt_spike_col),
    (ponb_traces, ponb_spike_t, ponb_spike_v, ponb_spike_col),
    (rcsf_traces, rcsf_spike_t, rcsf_spike_v, rcsf_spike_col),
    (both_traces, both_spike_t, both_spike_v, both_spike_col),
]
title_x = [0.545, 0.459, 0.545, 0.457]
title_y = [1.02, 1.022, 0.967, 0.963]
ylab_x = [-0.140, -0.144, -0.119, -0.123]

for k, (traces, sp_t, sp_v, sp_c) in enumerate(panels):
    left, top = boxes[k]
    ax = fig.add_axes([left / W, 1 - (top + ah) / H, aw / W, ah / H])

    rows = []
    pal = {}
    for i, v in enumerate(traces):
        name = 'b%02d' % i
        pal[name] = matlab[i % 7]
        for t, y in zip(hours[:len(v)], v):
            rows.append((name, t, y))
    for i, (tt, vv) in enumerate(zip(sp_t, sp_v)):
        name = 's%02d' % i
        pal[name] = matlab[sp_c[i]]
        for t, y in zip(tt, vv):
            rows.append((name, t, y))
    df = pd.DataFrame(rows, columns=['trace', 'time', 'value'])

    sns.lineplot(data=df, x='time', y='value', hue='trace', palette=pal,
                 estimator=None, sort=False, legend=False, lw=1.5, ax=ax)

    ax.set_xlim(0, 32)
    ax.set_ylim(0, y_max[k])
    ax.set_xticks(x_ticks)
    ax.set_yticks(np.arange(0, y_max[k] + 1, y_step[k]))
    ax.tick_params(direction='in', length=4, width=1.1, colors=dark,
                   labelsize=14, bottom=True, left=True)
    ax.tick_params(axis='x', pad=7)
    ax.tick_params(axis='y', pad=5)
    for s in ['top', 'right']:
        ax.spines[s].set_visible(False)
    for s in ['left', 'bottom']:
        ax.spines[s].set_color(dark)
        ax.spines[s].set_linewidth(1.2)
        ax.spines[s].set_zorder(5)
    ax.set_xlabel('Time (h)', fontsize=15.5, color=dark, va='center')
    ax.xaxis.set_label_coords(0.5, -0.163)
    ax.set_ylabel('[PrprA::YFP]', fontsize=15.5, color=dark, va='center')
    ax.yaxis.set_label_coords(ylab_x[k], 0.5)
    ax.text(title_x[k], title_y[k], panel_titles[k], transform=ax.transAxes,
            ha='center', va='baseline', fontsize=16.5, color='black',
            style='normal' if k == 0 else 'italic')

fig.text(14 / W, 1 - 38 / H, 'C', fontsize=25, family='Open Sans',
         ha='left', va='baseline', color='black')

fig.savefig('out.png', dpi=100)
